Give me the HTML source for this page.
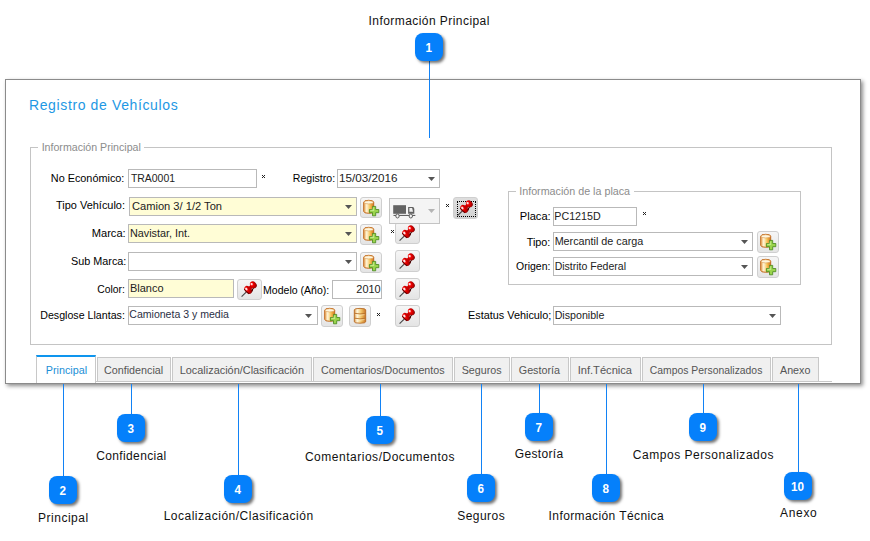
<!DOCTYPE html>
<html><head><meta charset="utf-8"><style>
html,body{margin:0;padding:0;}
body{width:870px;height:541px;overflow:hidden;position:relative;background:#fff;font-family:"Liberation Sans",sans-serif;}
.t{position:absolute;white-space:nowrap;}
.b{position:absolute;box-sizing:border-box;}
.btn{border:1px solid #cfcfcf;border-radius:3px;overflow:hidden;}
.btn svg{position:absolute;left:0;top:0;}
.badge{position:absolute;width:28px;height:28px;border-radius:8px;background:#0580fb;box-shadow:2px 2px 3px rgba(0,0,0,0.55);color:#fff;font-weight:bold;font-size:13.6px;line-height:29.8px;text-align:center;}
.badge span{display:inline-block;transform:scaleX(0.86);}
</style></head><body>
<div class="b" style="left:5px;top:79px;width:856px;height:305px;border:1px solid #8b8b8b;background:#fff;box-shadow:2px 2px 4px rgba(0,0,0,0.45);"></div>
<div class="t" style="left:28.98px;top:98.00px;font-size:14.00px;line-height:14.00px;letter-spacing:0.624px;color:#1e98e4;">Registro de Vehículos</div>
<div class="b" style="left:30px;top:147px;width:802px;height:198px;border:1px solid #c4c4c4;"></div>
<div class="b" style="left:38px;top:143px;width:106px;height:8px;background:#fff;"></div>
<div class="t" style="left:41.65px;top:142.00px;font-size:10.63px;line-height:10.63px;color:#8c8c8c;">Información Principal</div>
<div class="b" style="left:508px;top:191px;width:293px;height:94px;border:1px solid #c4c4c4;"></div>
<div class="b" style="left:516px;top:187px;width:118px;height:8px;background:#fff;"></div>
<div class="t" style="left:519.24px;top:186.00px;font-size:10.73px;line-height:10.73px;color:#8c8c8c;">Información de la placa</div>
<div class="t" style="left:50.82px;top:173.00px;font-size:10.85px;line-height:10.85px;color:#000;">No Económico:</div>
<div class="t" style="left:56.09px;top:200.00px;font-size:10.95px;line-height:10.95px;color:#000;">Tipo Vehículo:</div>
<div class="t" style="left:91.70px;top:228.00px;font-size:11.13px;line-height:11.13px;color:#000;">Marca:</div>
<div class="t" style="left:71.02px;top:256.00px;font-size:10.83px;line-height:10.83px;color:#000;">Sub Marca:</div>
<div class="t" style="left:97.18px;top:285.00px;font-size:10.38px;line-height:10.38px;color:#000;">Color:</div>
<div class="t" style="left:40.25px;top:310.00px;font-size:10.65px;line-height:10.65px;color:#000;">Desglose Llantas:</div>
<div class="t" style="left:292.86px;top:173.00px;font-size:10.57px;line-height:10.57px;color:#000;">Registro:</div>
<div class="t" style="left:263.06px;top:285.00px;font-size:10.54px;line-height:10.54px;color:#000;">Modelo (Año):</div>
<div class="t" style="left:519.76px;top:211.00px;font-size:11.13px;line-height:11.13px;color:#000;">Placa:</div>
<div class="t" style="left:526.69px;top:237.00px;font-size:10.84px;line-height:10.84px;color:#000;">Tipo:</div>
<div class="t" style="left:516.12px;top:262.00px;font-size:10.45px;line-height:10.45px;color:#000;">Origen:</div>
<div class="t" style="left:468.03px;top:310.00px;font-size:10.86px;line-height:10.86px;color:#000;">Estatus Vehiculo;</div>
<div class="b" style="left:128px;top:169px;width:129px;height:19px;border:1px solid #b9b9b9;background:#fff;"></div>
<div class="t" style="left:130.88px;top:174.00px;font-size:10.46px;line-height:10.46px;color:#222;">TRA0001</div>
<svg class="b" style="left:262px;top:175px" width="3" height="3" shape-rendering="crispEdges"><path d="M0 0h1v1h-1zM2 0h1v1h-1zM1 1h1v1h-1zM0 2h1v1h-1zM2 2h1v1h-1z" fill="#222"/></svg>
<div class="b" style="left:337px;top:169px;width:103px;height:19px;border:1px solid #b9b9b9;background:#fff;"></div>
<div class="t" style="left:339.02px;top:172.00px;font-size:11.68px;line-height:11.68px;color:#222;">15/03/2016</div>
<svg class="b" style="left:428px;top:177px" width="8" height="5"><path d="M0 0H7L3.5 4Z" fill="#555"/></svg>
<div class="b" style="left:129px;top:197px;width:228px;height:19px;border:1px solid #b9b9b9;background:#fffdd6;"></div>
<div class="t" style="left:131.93px;top:201.00px;font-size:11.13px;line-height:11.13px;color:#222;">Camion 3/ 1/2 Ton</div>
<svg class="b" style="left:345px;top:205px" width="8" height="5"><path d="M0 0H7L3.5 4Z" fill="#555"/></svg>
<div class="b" style="left:128px;top:224px;width:229px;height:19px;border:1px solid #b9b9b9;background:#fffdd6;"></div>
<div class="t" style="left:129.92px;top:228.00px;font-size:10.83px;line-height:10.83px;color:#222;">Navistar, Int.</div>
<svg class="b" style="left:345px;top:232px" width="8" height="5"><path d="M0 0H7L3.5 4Z" fill="#555"/></svg>
<div class="b" style="left:128px;top:252px;width:229px;height:19px;border:1px solid #b9b9b9;background:#fff;"></div>
<svg class="b" style="left:345px;top:260px" width="8" height="5"><path d="M0 0H7L3.5 4Z" fill="#555"/></svg>
<div class="b" style="left:128px;top:279px;width:106px;height:19px;border:1px solid #b9b9b9;background:#fffdd6;"></div>
<div class="t" style="left:130.02px;top:283.00px;font-size:10.97px;line-height:10.97px;color:#222;">Blanco</div>
<div class="b" style="left:332px;top:280px;width:50px;height:19px;border:1px solid #b9b9b9;background:#fff;"></div>
<div class="t" style="left:356.36px;top:284.00px;font-size:10.93px;line-height:10.93px;color:#222;">2010</div>
<div class="b" style="left:128px;top:306px;width:190px;height:19px;border:1px solid #b9b9b9;background:#fff;"></div>
<div class="t" style="left:129.29px;top:309.00px;font-size:10.55px;line-height:10.55px;color:#2a2f45;">Camioneta 3 y media</div>
<svg class="b" style="left:305px;top:314px" width="8" height="5"><path d="M0 0H7L3.5 4Z" fill="#555"/></svg>
<div class="b" style="left:553px;top:207px;width:84px;height:19px;border:1px solid #b9b9b9;background:#fff;"></div>
<div class="t" style="left:554.34px;top:211.00px;font-size:10.69px;line-height:10.69px;color:#222;">PC1215D</div>
<svg class="b" style="left:643px;top:212px" width="3" height="3" shape-rendering="crispEdges"><path d="M0 0h1v1h-1zM2 0h1v1h-1zM1 1h1v1h-1zM0 2h1v1h-1zM2 2h1v1h-1z" fill="#222"/></svg>
<div class="b" style="left:553px;top:232px;width:200px;height:19px;border:1px solid #b9b9b9;background:#fff;"></div>
<div class="t" style="left:554.64px;top:236.00px;font-size:10.79px;line-height:10.79px;color:#222;">Mercantil de carga</div>
<svg class="b" style="left:741px;top:240px" width="8" height="5"><path d="M0 0H7L3.5 4Z" fill="#555"/></svg>
<div class="b" style="left:553px;top:257px;width:200px;height:19px;border:1px solid #b9b9b9;background:#fff;"></div>
<div class="t" style="left:554.64px;top:261.00px;font-size:10.54px;line-height:10.54px;color:#222;">Distrito Federal</div>
<svg class="b" style="left:741px;top:265px" width="8" height="5"><path d="M0 0H7L3.5 4Z" fill="#555"/></svg>
<div class="b" style="left:553px;top:306px;width:228px;height:19px;border:1px solid #b9b9b9;background:#fff;"></div>
<div class="t" style="left:554.65px;top:310.00px;font-size:10.67px;line-height:10.67px;color:#222;">Disponible</div>
<svg class="b" style="left:769px;top:314px" width="8" height="5"><path d="M0 0H7L3.5 4Z" fill="#555"/></svg>
<svg class="b" style="left:446px;top:204px" width="3" height="3" shape-rendering="crispEdges"><path d="M0 0h1v1h-1zM2 0h1v1h-1zM1 1h1v1h-1zM0 2h1v1h-1zM2 2h1v1h-1z" fill="#222"/></svg>
<svg class="b" style="left:391px;top:230px" width="3" height="3" shape-rendering="crispEdges"><path d="M0 0h1v1h-1zM2 0h1v1h-1zM1 1h1v1h-1zM0 2h1v1h-1zM2 2h1v1h-1z" fill="#222"/></svg>
<svg class="b" style="left:377px;top:313px" width="3" height="3" shape-rendering="crispEdges"><path d="M0 0h1v1h-1zM2 0h1v1h-1zM1 1h1v1h-1zM0 2h1v1h-1zM2 2h1v1h-1z" fill="#222"/></svg>
<div class="b btn" style="left:360px;top:197px;width:22px;height:21px;background:linear-gradient(#f6f6f6,#e4e4e4);"><svg width="22" height="21" viewBox="0.8 0.7 22 21"><defs><linearGradient id="cy1" x1="0" x2="1"><stop offset="0" stop-color="#e8a050"/><stop offset="0.3" stop-color="#fff6d8"/><stop offset="0.65" stop-color="#f5c050"/><stop offset="1" stop-color="#d27020"/></linearGradient></defs>
<path d="M3.5 5 Q3.5 3 8.5 3 Q13.5 3 13.5 5 V14 Q13.5 16 8.5 16 Q3.5 16 3.5 14Z" fill="url(#cy1)" stroke="#c06a20" stroke-width="1"/>
<ellipse cx="8.5" cy="5" rx="4.5" ry="1.6" fill="#fff6dc" stroke="#d99a55" stroke-width="0.6"/>
<path d="M12.3 9.1H15.5V12.2H18.6V15.4H15.5V18.5H12.3V15.4H9.2V12.2H12.3Z" fill="#9ad44c" stroke="#4a8a20" stroke-width="0.85"/><path d="M13 10.2V13 M10.2 13H14" stroke="#d6f2a6" stroke-width="0.8"/>
</svg></div>
<div class="b btn" style="left:360px;top:224px;width:22px;height:21px;background:linear-gradient(#f6f6f6,#e4e4e4);"><svg width="22" height="21" viewBox="0.8 0.7 22 21"><defs><linearGradient id="cy2" x1="0" x2="1"><stop offset="0" stop-color="#e8a050"/><stop offset="0.3" stop-color="#fff6d8"/><stop offset="0.65" stop-color="#f5c050"/><stop offset="1" stop-color="#d27020"/></linearGradient></defs>
<path d="M3.5 5 Q3.5 3 8.5 3 Q13.5 3 13.5 5 V14 Q13.5 16 8.5 16 Q3.5 16 3.5 14Z" fill="url(#cy2)" stroke="#c06a20" stroke-width="1"/>
<ellipse cx="8.5" cy="5" rx="4.5" ry="1.6" fill="#fff6dc" stroke="#d99a55" stroke-width="0.6"/>
<path d="M12.3 9.1H15.5V12.2H18.6V15.4H15.5V18.5H12.3V15.4H9.2V12.2H12.3Z" fill="#9ad44c" stroke="#4a8a20" stroke-width="0.85"/><path d="M13 10.2V13 M10.2 13H14" stroke="#d6f2a6" stroke-width="0.8"/>
</svg></div>
<div class="b btn" style="left:360px;top:252px;width:22px;height:21px;background:linear-gradient(#f6f6f6,#e4e4e4);"><svg width="22" height="21" viewBox="0.8 0.7 22 21"><defs><linearGradient id="cy3" x1="0" x2="1"><stop offset="0" stop-color="#e8a050"/><stop offset="0.3" stop-color="#fff6d8"/><stop offset="0.65" stop-color="#f5c050"/><stop offset="1" stop-color="#d27020"/></linearGradient></defs>
<path d="M3.5 5 Q3.5 3 8.5 3 Q13.5 3 13.5 5 V14 Q13.5 16 8.5 16 Q3.5 16 3.5 14Z" fill="url(#cy3)" stroke="#c06a20" stroke-width="1"/>
<ellipse cx="8.5" cy="5" rx="4.5" ry="1.6" fill="#fff6dc" stroke="#d99a55" stroke-width="0.6"/>
<path d="M12.3 9.1H15.5V12.2H18.6V15.4H15.5V18.5H12.3V15.4H9.2V12.2H12.3Z" fill="#9ad44c" stroke="#4a8a20" stroke-width="0.85"/><path d="M13 10.2V13 M10.2 13H14" stroke="#d6f2a6" stroke-width="0.8"/>
</svg></div>
<div class="b btn" style="left:321px;top:305px;width:22px;height:22px;background:linear-gradient(#f6f6f6,#e4e4e4);"><svg width="22" height="21" viewBox="0.8 0.7 22 21"><defs><linearGradient id="cy4" x1="0" x2="1"><stop offset="0" stop-color="#e8a050"/><stop offset="0.3" stop-color="#fff6d8"/><stop offset="0.65" stop-color="#f5c050"/><stop offset="1" stop-color="#d27020"/></linearGradient></defs>
<path d="M3.5 5 Q3.5 3 8.5 3 Q13.5 3 13.5 5 V14 Q13.5 16 8.5 16 Q3.5 16 3.5 14Z" fill="url(#cy4)" stroke="#c06a20" stroke-width="1"/>
<ellipse cx="8.5" cy="5" rx="4.5" ry="1.6" fill="#fff6dc" stroke="#d99a55" stroke-width="0.6"/>
<path d="M12.3 9.1H15.5V12.2H18.6V15.4H15.5V18.5H12.3V15.4H9.2V12.2H12.3Z" fill="#9ad44c" stroke="#4a8a20" stroke-width="0.85"/><path d="M13 10.2V13 M10.2 13H14" stroke="#d6f2a6" stroke-width="0.8"/>
</svg></div>
<div class="b btn" style="left:349px;top:305px;width:22px;height:22px;background:linear-gradient(#f6f6f6,#e4e4e4);"><svg width="22" height="22" viewBox="1 0.8 22 22"><defs><linearGradient id="db5" x1="0" x2="1"><stop offset="0" stop-color="#d8903e"/><stop offset="0.25" stop-color="#fff8e0"/><stop offset="0.6" stop-color="#f2c468"/><stop offset="1" stop-color="#c87426"/></linearGradient></defs>
<path d="M5.3 4.6 Q5.3 3.2 11 3.2 Q16.7 3.2 16.7 4.6 V16.6 Q16.7 18 11 18 Q5.3 18 5.3 16.6Z" fill="url(#db5)" stroke="#b86a22" stroke-width="0.9"/>
<path d="M5.5 8.1 Q11 9.4 16.5 8.1 M5.5 13 Q11 14.3 16.5 13" fill="none" stroke="#b8702a" stroke-width="0.9"/>
<path d="M6.5 9.5 Q11 10.6 15.5 9.5 M6.5 14.4 Q11 15.5 15.5 14.4" fill="none" stroke="#fff4d0" stroke-width="0.7" opacity="0.8"/>
</svg></div>
<div class="b btn" style="left:757px;top:231px;width:22px;height:22px;background:linear-gradient(#f6f6f6,#e4e4e4);"><svg width="22" height="21" viewBox="0.8 0.7 22 21"><defs><linearGradient id="cy6" x1="0" x2="1"><stop offset="0" stop-color="#e8a050"/><stop offset="0.3" stop-color="#fff6d8"/><stop offset="0.65" stop-color="#f5c050"/><stop offset="1" stop-color="#d27020"/></linearGradient></defs>
<path d="M3.5 5 Q3.5 3 8.5 3 Q13.5 3 13.5 5 V14 Q13.5 16 8.5 16 Q3.5 16 3.5 14Z" fill="url(#cy6)" stroke="#c06a20" stroke-width="1"/>
<ellipse cx="8.5" cy="5" rx="4.5" ry="1.6" fill="#fff6dc" stroke="#d99a55" stroke-width="0.6"/>
<path d="M12.3 9.1H15.5V12.2H18.6V15.4H15.5V18.5H12.3V15.4H9.2V12.2H12.3Z" fill="#9ad44c" stroke="#4a8a20" stroke-width="0.85"/><path d="M13 10.2V13 M10.2 13H14" stroke="#d6f2a6" stroke-width="0.8"/>
</svg></div>
<div class="b btn" style="left:757px;top:256px;width:22px;height:22px;background:linear-gradient(#f6f6f6,#e4e4e4);"><svg width="22" height="21" viewBox="0.8 0.7 22 21"><defs><linearGradient id="cy7" x1="0" x2="1"><stop offset="0" stop-color="#e8a050"/><stop offset="0.3" stop-color="#fff6d8"/><stop offset="0.65" stop-color="#f5c050"/><stop offset="1" stop-color="#d27020"/></linearGradient></defs>
<path d="M3.5 5 Q3.5 3 8.5 3 Q13.5 3 13.5 5 V14 Q13.5 16 8.5 16 Q3.5 16 3.5 14Z" fill="url(#cy7)" stroke="#c06a20" stroke-width="1"/>
<ellipse cx="8.5" cy="5" rx="4.5" ry="1.6" fill="#fff6dc" stroke="#d99a55" stroke-width="0.6"/>
<path d="M12.3 9.1H15.5V12.2H18.6V15.4H15.5V18.5H12.3V15.4H9.2V12.2H12.3Z" fill="#9ad44c" stroke="#4a8a20" stroke-width="0.85"/><path d="M13 10.2V13 M10.2 13H14" stroke="#d6f2a6" stroke-width="0.8"/>
</svg></div>
<div class="b btn" style="left:395px;top:222px;width:25px;height:22px;background:linear-gradient(#f6f6f6,#e4e4e4);"><svg width="25" height="22" viewBox="0 0 25 22"><defs><radialGradient id="pg8" cx="0.35" cy="0.3" r="0.8"><stop offset="0" stop-color="#ff7070"/><stop offset="0.35" stop-color="#f00000"/><stop offset="0.8" stop-color="#a80000"/><stop offset="1" stop-color="#580000"/></radialGradient></defs>
<line x1="3.6" y1="17.7" x2="8.2" y2="13.1" stroke="#454545" stroke-width="1.1"/>
<g transform="translate(3.4 17.7) rotate(-45) scale(0.96)">
<ellipse cx="10" cy="0" rx="3.2" ry="4.7" fill="url(#pg8)"/>
<rect x="10.5" y="-1.8" width="5.5" height="3.6" fill="#c80000"/>
<ellipse cx="17.6" cy="0" rx="3.1" ry="3.9" fill="url(#pg8)"/>
<path d="M7.8 -3.6 Q6.9 0 7.8 3.6" stroke="#5a0000" stroke-width="1" fill="none"/>
<ellipse cx="9.4" cy="-2.1" rx="1.1" ry="1.4" fill="#fff" opacity="0.85"/>
<ellipse cx="16.9" cy="-1.8" rx="1" ry="1.2" fill="#fff" opacity="0.85"/>
<path d="M12 4.1 Q13.8 2 15.3 3" stroke="#4a0000" stroke-width="1.1" fill="none"/>
</g>
</svg></div>
<div class="b" style="left:389px;top:198px;width:51px;height:26px;border:1px solid #c4c4c4;background:#f4f4f4;"></div>
<svg class="b" style="left:391px;top:203px" width="28" height="18" viewBox="0 0 28 18">
<rect x="2.2" y="2.2" width="12.8" height="8.6" fill="#626262"/>
<path d="M17.1 4 H21.8 Q22.9 4 23.3 6 V10.8 H17.1 Z" fill="#626262"/>
<path d="M18.4 5.1 H21.1 L22.1 8.8 H18.4 Z" fill="#f0f0f0"/>
<rect x="2.5" y="11.9" width="21.8" height="1.1" fill="#626262"/>
<ellipse cx="6.5" cy="13" rx="1.7" ry="2" fill="#f4f4f4" stroke="#5e5e5e" stroke-width="1"/>
<ellipse cx="19.8" cy="13" rx="1.7" ry="2" fill="#f4f4f4" stroke="#5e5e5e" stroke-width="1"/>
</svg>
<svg class="b" style="left:428px;top:209px" width="8" height="5"><path d="M0 0H7L3.5 4Z" fill="#b4b4b4"/></svg>
<div class="b btn" style="left:453px;top:197px;width:25px;height:22px;background:linear-gradient(#dedede,#d2d2d2);"><div class="b" style="left:3px;top:3px;width:19px;height:16px;border:1px dotted #000;"></div><svg width="25" height="22" viewBox="0 0 25 22"><defs><radialGradient id="pg9" cx="0.35" cy="0.3" r="0.8"><stop offset="0" stop-color="#ff7070"/><stop offset="0.35" stop-color="#f00000"/><stop offset="0.8" stop-color="#a80000"/><stop offset="1" stop-color="#580000"/></radialGradient></defs>
<line x1="3.6" y1="17.7" x2="8.2" y2="13.1" stroke="#454545" stroke-width="1.1"/>
<g transform="translate(3.4 17.7) rotate(-45) scale(0.96)">
<ellipse cx="10" cy="0" rx="3.2" ry="4.7" fill="url(#pg9)"/>
<rect x="10.5" y="-1.8" width="5.5" height="3.6" fill="#c80000"/>
<ellipse cx="17.6" cy="0" rx="3.1" ry="3.9" fill="url(#pg9)"/>
<path d="M7.8 -3.6 Q6.9 0 7.8 3.6" stroke="#5a0000" stroke-width="1" fill="none"/>
<ellipse cx="9.4" cy="-2.1" rx="1.1" ry="1.4" fill="#fff" opacity="0.85"/>
<ellipse cx="16.9" cy="-1.8" rx="1" ry="1.2" fill="#fff" opacity="0.85"/>
<path d="M12 4.1 Q13.8 2 15.3 3" stroke="#4a0000" stroke-width="1.1" fill="none"/>
</g>
</svg></div>
<div class="b btn" style="left:395px;top:250px;width:25px;height:22px;background:linear-gradient(#f6f6f6,#e4e4e4);"><svg width="25" height="22" viewBox="0 0 25 22"><defs><radialGradient id="pg10" cx="0.35" cy="0.3" r="0.8"><stop offset="0" stop-color="#ff7070"/><stop offset="0.35" stop-color="#f00000"/><stop offset="0.8" stop-color="#a80000"/><stop offset="1" stop-color="#580000"/></radialGradient></defs>
<line x1="3.6" y1="17.7" x2="8.2" y2="13.1" stroke="#454545" stroke-width="1.1"/>
<g transform="translate(3.4 17.7) rotate(-45) scale(0.96)">
<ellipse cx="10" cy="0" rx="3.2" ry="4.7" fill="url(#pg10)"/>
<rect x="10.5" y="-1.8" width="5.5" height="3.6" fill="#c80000"/>
<ellipse cx="17.6" cy="0" rx="3.1" ry="3.9" fill="url(#pg10)"/>
<path d="M7.8 -3.6 Q6.9 0 7.8 3.6" stroke="#5a0000" stroke-width="1" fill="none"/>
<ellipse cx="9.4" cy="-2.1" rx="1.1" ry="1.4" fill="#fff" opacity="0.85"/>
<ellipse cx="16.9" cy="-1.8" rx="1" ry="1.2" fill="#fff" opacity="0.85"/>
<path d="M12 4.1 Q13.8 2 15.3 3" stroke="#4a0000" stroke-width="1.1" fill="none"/>
</g>
</svg></div>
<div class="b btn" style="left:237px;top:279px;width:25px;height:21px;background:linear-gradient(#f6f6f6,#e4e4e4);"><svg style="top:-1px" width="25" height="22" viewBox="0 0 25 22"><defs><radialGradient id="pg11" cx="0.35" cy="0.3" r="0.8"><stop offset="0" stop-color="#ff7070"/><stop offset="0.35" stop-color="#f00000"/><stop offset="0.8" stop-color="#a80000"/><stop offset="1" stop-color="#580000"/></radialGradient></defs>
<line x1="3.6" y1="17.7" x2="8.2" y2="13.1" stroke="#454545" stroke-width="1.1"/>
<g transform="translate(3.4 17.7) rotate(-45) scale(0.96)">
<ellipse cx="10" cy="0" rx="3.2" ry="4.7" fill="url(#pg11)"/>
<rect x="10.5" y="-1.8" width="5.5" height="3.6" fill="#c80000"/>
<ellipse cx="17.6" cy="0" rx="3.1" ry="3.9" fill="url(#pg11)"/>
<path d="M7.8 -3.6 Q6.9 0 7.8 3.6" stroke="#5a0000" stroke-width="1" fill="none"/>
<ellipse cx="9.4" cy="-2.1" rx="1.1" ry="1.4" fill="#fff" opacity="0.85"/>
<ellipse cx="16.9" cy="-1.8" rx="1" ry="1.2" fill="#fff" opacity="0.85"/>
<path d="M12 4.1 Q13.8 2 15.3 3" stroke="#4a0000" stroke-width="1.1" fill="none"/>
</g>
</svg></div>
<div class="b btn" style="left:395px;top:278px;width:25px;height:22px;background:linear-gradient(#f6f6f6,#e4e4e4);"><svg width="25" height="22" viewBox="0 0 25 22"><defs><radialGradient id="pg12" cx="0.35" cy="0.3" r="0.8"><stop offset="0" stop-color="#ff7070"/><stop offset="0.35" stop-color="#f00000"/><stop offset="0.8" stop-color="#a80000"/><stop offset="1" stop-color="#580000"/></radialGradient></defs>
<line x1="3.6" y1="17.7" x2="8.2" y2="13.1" stroke="#454545" stroke-width="1.1"/>
<g transform="translate(3.4 17.7) rotate(-45) scale(0.96)">
<ellipse cx="10" cy="0" rx="3.2" ry="4.7" fill="url(#pg12)"/>
<rect x="10.5" y="-1.8" width="5.5" height="3.6" fill="#c80000"/>
<ellipse cx="17.6" cy="0" rx="3.1" ry="3.9" fill="url(#pg12)"/>
<path d="M7.8 -3.6 Q6.9 0 7.8 3.6" stroke="#5a0000" stroke-width="1" fill="none"/>
<ellipse cx="9.4" cy="-2.1" rx="1.1" ry="1.4" fill="#fff" opacity="0.85"/>
<ellipse cx="16.9" cy="-1.8" rx="1" ry="1.2" fill="#fff" opacity="0.85"/>
<path d="M12 4.1 Q13.8 2 15.3 3" stroke="#4a0000" stroke-width="1.1" fill="none"/>
</g>
</svg></div>
<div class="b btn" style="left:395px;top:305px;width:25px;height:22px;background:linear-gradient(#f6f6f6,#e4e4e4);"><svg width="25" height="22" viewBox="0 0 25 22"><defs><radialGradient id="pg13" cx="0.35" cy="0.3" r="0.8"><stop offset="0" stop-color="#ff7070"/><stop offset="0.35" stop-color="#f00000"/><stop offset="0.8" stop-color="#a80000"/><stop offset="1" stop-color="#580000"/></radialGradient></defs>
<line x1="3.6" y1="17.7" x2="8.2" y2="13.1" stroke="#454545" stroke-width="1.1"/>
<g transform="translate(3.4 17.7) rotate(-45) scale(0.96)">
<ellipse cx="10" cy="0" rx="3.2" ry="4.7" fill="url(#pg13)"/>
<rect x="10.5" y="-1.8" width="5.5" height="3.6" fill="#c80000"/>
<ellipse cx="17.6" cy="0" rx="3.1" ry="3.9" fill="url(#pg13)"/>
<path d="M7.8 -3.6 Q6.9 0 7.8 3.6" stroke="#5a0000" stroke-width="1" fill="none"/>
<ellipse cx="9.4" cy="-2.1" rx="1.1" ry="1.4" fill="#fff" opacity="0.85"/>
<ellipse cx="16.9" cy="-1.8" rx="1" ry="1.2" fill="#fff" opacity="0.85"/>
<path d="M12 4.1 Q13.8 2 15.3 3" stroke="#4a0000" stroke-width="1.1" fill="none"/>
</g>
</svg></div>
<div class="b" style="left:36px;top:381px;width:796px;height:1px;background:#c8c8c8;"></div>
<div class="b" style="left:36px;top:355px;width:60px;height:28px;background:#fff;border-left:1px solid #c8c8c8;border-right:1px solid #c8c8c8;border-top:2px solid #0e95ee;"></div>
<div class="t" style="left:45.84px;top:365.00px;font-size:10.76px;line-height:10.76px;color:#1b8fd6;">Principal</div>
<div class="b" style="left:97px;top:357px;width:74px;height:24px;background:#f0f0f0;border:1px solid #c8c8c8;border-bottom:none;"></div>
<div class="t" style="left:103.97px;top:365.00px;font-size:10.75px;line-height:10.75px;color:#555;">Confidencial</div>
<div class="b" style="left:172px;top:357px;width:140px;height:24px;background:#f0f0f0;border:1px solid #c8c8c8;border-bottom:none;"></div>
<div class="t" style="left:179.71px;top:365.00px;font-size:10.91px;line-height:10.91px;color:#555;">Localización/Clasificación</div>
<div class="b" style="left:313px;top:357px;width:140px;height:24px;background:#f0f0f0;border:1px solid #c8c8c8;border-bottom:none;"></div>
<div class="t" style="left:320.98px;top:365.00px;font-size:10.69px;line-height:10.69px;color:#555;">Comentarios/Documentos</div>
<div class="b" style="left:454px;top:357px;width:56px;height:24px;background:#f0f0f0;border:1px solid #c8c8c8;border-bottom:none;"></div>
<div class="t" style="left:461.71px;top:365.00px;font-size:10.73px;line-height:10.73px;color:#555;">Seguros</div>
<div class="b" style="left:511px;top:357px;width:58px;height:24px;background:#f0f0f0;border:1px solid #c8c8c8;border-bottom:none;"></div>
<div class="t" style="left:518.77px;top:365.00px;font-size:10.75px;line-height:10.75px;color:#555;">Gestoría</div>
<div class="b" style="left:570px;top:357px;width:71px;height:24px;background:#f0f0f0;border:1px solid #c8c8c8;border-bottom:none;"></div>
<div class="t" style="left:577.64px;top:365.00px;font-size:11.13px;line-height:11.13px;color:#555;">Inf.Técnica</div>
<div class="b" style="left:642px;top:357px;width:129px;height:24px;background:#f0f0f0;border:1px solid #c8c8c8;border-bottom:none;"></div>
<div class="t" style="left:649.86px;top:366.00px;font-size:10.38px;line-height:10.38px;color:#555;">Campos Personalizados</div>
<div class="b" style="left:772px;top:357px;width:47px;height:24px;background:#f0f0f0;border:1px solid #c8c8c8;border-bottom:none;"></div>
<div class="t" style="left:780.00px;top:365.00px;font-size:10.73px;line-height:10.73px;color:#555;">Anexo</div>
<div class="b" style="left:429px;top:61px;width:1px;height:77px;background:#1282f5;"></div>
<div class="badge" style="left:415px;top:33px;"><span>1</span></div>
<div class="t" style="left:368.52px;top:15.00px;font-size:12.00px;line-height:12.00px;letter-spacing:0.442px;color:#111;">Información Principal</div>
<div class="b" style="left:63px;top:384px;width:1px;height:92px;background:#1282f5;"></div>
<div class="badge" style="left:49px;top:476px;"><span>2</span></div>
<div class="t" style="left:37.94px;top:512.00px;font-size:12.00px;line-height:12.00px;letter-spacing:0.528px;color:#111;">Principal</div>
<div class="b" style="left:131px;top:384px;width:1px;height:30px;background:#1282f5;"></div>
<div class="badge" style="left:117px;top:414px;"><span>3</span></div>
<div class="t" style="left:96.30px;top:450.00px;font-size:12.00px;line-height:12.00px;letter-spacing:0.353px;color:#111;">Confidencial</div>
<div class="b" style="left:238px;top:384px;width:1px;height:91px;background:#1282f5;"></div>
<div class="badge" style="left:224px;top:475px;"><span>4</span></div>
<div class="t" style="left:163.64px;top:510.00px;font-size:12.00px;line-height:12.00px;letter-spacing:0.508px;color:#111;">Localización/Clasificación</div>
<div class="b" style="left:380px;top:384px;width:1px;height:32px;background:#1282f5;"></div>
<div class="badge" style="left:366px;top:416px;"><span>5</span></div>
<div class="t" style="left:304.90px;top:451.00px;font-size:12.00px;line-height:12.00px;letter-spacing:0.519px;color:#111;">Comentarios/Documentos</div>
<div class="b" style="left:481px;top:384px;width:1px;height:90px;background:#1282f5;"></div>
<div class="badge" style="left:467px;top:474px;"><span>6</span></div>
<div class="t" style="left:457.26px;top:510.00px;font-size:12.00px;line-height:12.00px;letter-spacing:0.460px;color:#111;">Seguros</div>
<div class="b" style="left:539px;top:384px;width:1px;height:29px;background:#1282f5;"></div>
<div class="badge" style="left:525px;top:413px;"><span>7</span></div>
<div class="t" style="left:514.80px;top:448.00px;font-size:12.00px;line-height:12.00px;letter-spacing:0.340px;color:#111;">Gestoría</div>
<div class="b" style="left:606px;top:384px;width:1px;height:90px;background:#1282f5;"></div>
<div class="badge" style="left:592px;top:474px;"><span>8</span></div>
<div class="t" style="left:548.62px;top:510.00px;font-size:12.00px;line-height:12.00px;letter-spacing:0.398px;color:#111;">Información Técnica</div>
<div class="b" style="left:703px;top:384px;width:1px;height:29px;background:#1282f5;"></div>
<div class="badge" style="left:689px;top:413px;"><span>9</span></div>
<div class="t" style="left:632.80px;top:449.00px;font-size:12.00px;line-height:12.00px;letter-spacing:0.532px;color:#111;">Campos Personalizados</div>
<div class="b" style="left:798px;top:384px;width:1px;height:88px;background:#1282f5;"></div>
<div class="badge" style="left:784px;top:472px;"><span>10</span></div>
<div class="t" style="left:780.00px;top:507.00px;font-size:12.00px;line-height:12.00px;letter-spacing:0.690px;color:#111;">Anexo</div>
</body></html>
